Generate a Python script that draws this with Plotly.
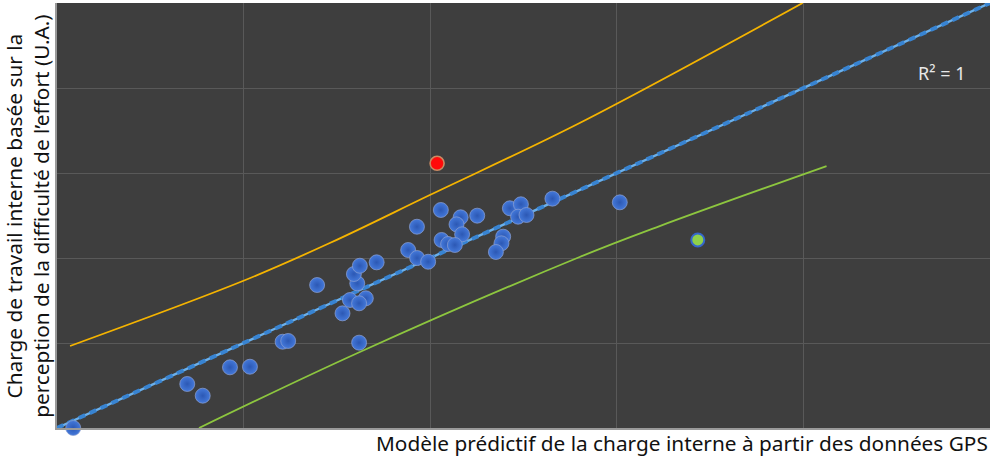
import plotly.graph_objects as go

# ---- data (axis units: 0-500 on both axes) ----
blue_x = [8.7, 69.8, 78.1, 92.7, 103.4, 120.9, 123.9, 139.4, 153.0, 157.0, 165.5, 161.9,
          160.9, 159.1, 162.3, 171.3, 161.9, 188.2, 193.0, 198.9, 192.9, 205.7, 216.3,
          225.2, 214.1, 217.1, 206.1, 209.6, 213.2, 242.7, 248.6, 247.1, 251.6, 265.5,
          301.6, 239.1, 238.2, 235.2]
blue_y = [0.0, 51.8, 38.0, 71.4, 72.1, 101.5, 102.4, 168.2, 134.9, 150.6, 152.6, 146.7,
          170.2, 181.2, 190.9, 194.9, 100.4, 209.4, 200.0, 195.6, 236.8, 256.5, 247.9,
          249.8, 239.6, 227.9, 221.2, 216.5, 215.3, 258.5, 263.2, 248.6, 250.6, 269.8,
          265.5, 225.1, 217.3, 207.1]
red_x = [203.7]
red_y = [311.4]
green_x = [343.4]
green_y = [221.2]

fit_x = [0, 500]
fit_y = [0, 500]

upper_x = [7.0, 99.6, 146.2, 199.8, 280.1, 399.6]
upper_y = [96.5, 172.9, 217.6, 274.1, 358.8, 500.0]

lower_x = [76.1, 162.3, 280.1, 323.0, 412.4]
lower_y = [0.0, 89.4, 201.2, 237.6, 308.2]

y_title = "Charge de travail interne basée sur la<br>perception de la difficulté de l’effort (U.A.)"
x_title = "Modèle prédictif de la charge interne à partir des données GPS"
r2_text = "R² = 1"

FONT = "Noto Sans"

fig = go.Figure()

fig.add_trace(go.Scatter(x=upper_x, y=upper_y, mode="lines", line=dict(color="#f5b400", width=1.8, shape="spline"),
                         hoverinfo="skip"))
fig.add_trace(go.Scatter(x=lower_x, y=lower_y, mode="lines", line=dict(color="#8dc63f", width=1.8, shape="spline"),
                         hoverinfo="skip"))
fig.add_trace(go.Scatter(x=fit_x, y=fit_y, mode="lines", line=dict(color="#6ab0ec", width=2.4),
                         hoverinfo="skip"))
fig.add_trace(go.Scatter(x=fit_x, y=fit_y, mode="lines", line=dict(color="#3884d2", width=4, dash="7px,5px"),
                         hoverinfo="skip"))

fig.add_trace(go.Scatter(x=blue_x, y=blue_y, mode="markers", cliponaxis=False,
                         marker=dict(size=15, color="#4479da",
                                     gradient=dict(type="radial", color="#2c58b4"),
                                     line=dict(color="rgba(140,160,210,0.7)", width=1))))
fig.add_trace(go.Scatter(x=red_x, y=red_y, mode="markers", cliponaxis=False,
                         marker=dict(size=14, color="#ff0a0a",
                                     line=dict(color="#c98a63", width=1.6))))
fig.add_trace(go.Scatter(x=green_x, y=green_y, mode="markers", cliponaxis=False,
                         marker=dict(size=13, color="#8fd14a",
                                     line=dict(color="#3567cc", width=2))))

fig.update_layout(
    width=996, height=456,
    margin=dict(l=57, r=6, t=3, b=28),
    paper_bgcolor="white",
    plot_bgcolor="#3e3e3e",
    showlegend=False,
    font=dict(family=FONT, color="#111111"),
    xaxis=dict(range=[0, 500], dtick=100, showticklabels=False, ticks="",
               showgrid=True, gridcolor="#595959", gridwidth=1, zeroline=False,
               showline=True, linecolor="#9a9a9a", linewidth=1.5),
    yaxis=dict(range=[0, 500], dtick=100, showticklabels=False, ticks="",
               showgrid=True, gridcolor="#595959", gridwidth=1, zeroline=False,
               showline=True, linecolor="#9a9a9a", linewidth=1.5),
    annotations=[
        dict(text=y_title, xref="paper", yref="paper", x=-0.031, y=0.497,
             xanchor="center", yanchor="middle", textangle=-90, showarrow=False,
             font=dict(size=20.8, family=FONT, color="#111111"), align="center"),
        dict(text=x_title, xref="paper", yref="paper", x=1.0, y=-0.036,
             xanchor="right", yanchor="middle", showarrow=False,
             font=dict(size=20.8, family=FONT, color="#111111")),
        dict(text=r2_text, xref="paper", yref="paper", x=0.9475, y=0.835,
             xanchor="center", yanchor="middle", showarrow=False,
             font=dict(size=18, family=FONT, color="#e8e8e8")),
    ],
)

fig.write_html("out.html", config={"displayModeBar": False},
               post_script="document.body.style.margin='0';document.body.style.padding='0';")
